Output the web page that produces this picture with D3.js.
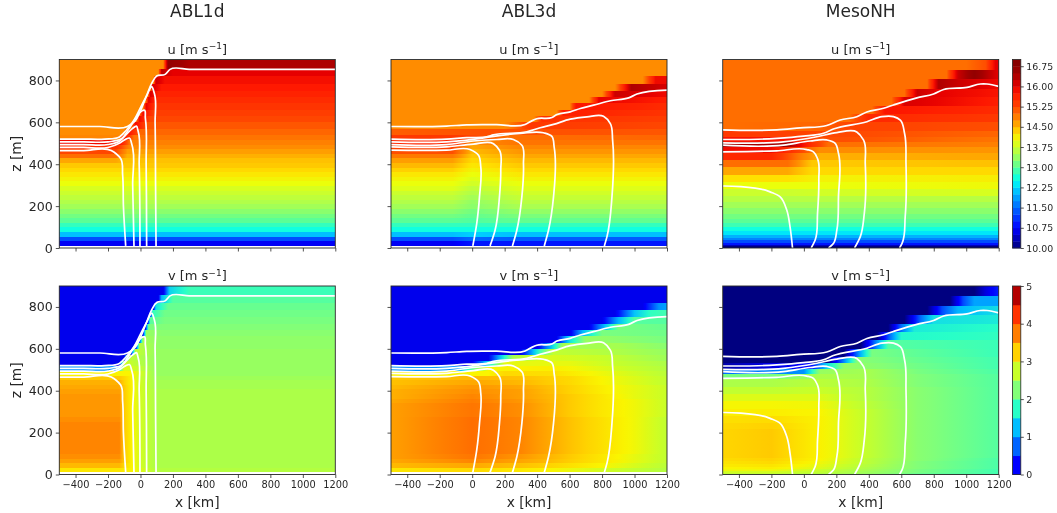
<!DOCTYPE html>
<html><head><meta charset="utf-8">
<script src="https://cdn.jsdelivr.net/npm/d3@7/dist/d3.min.js"></script>
<style>html,body{margin:0;background:#fff}svg{display:block;font-family:"DejaVu Sans",sans-serif;filter:blur(0.4px)}</style>
</head><body><svg id="c" width="1057" height="513"></svg>
<script>
const models=["ABL1d","ABL3d","MesoNH"];
const xTicks=[-400,-200,0,200,400,600,800,1000,1200];
const zTicks=[0,200,400,600,800];
const uBarTicks=[10,10.75,11.5,12.25,13,13.75,14.5,15.25,16,16.75];
const vBarTicks=[0,1,2,3,4,5];
const zEdgesABL=[10,32,54,76,98,120,142,164,186,208,230,252,274,296,318,340,362,384,406,428,450,472,494,516,540,570,600,630,660,690,720,750,785,820,855,900];
const zEdgesMeso=[0,8,16,26,38,50,64,80,98,118,140,164,190,218,248,280,314,350,385,420,455,480,505,530,560,600,640,680,720,760,805,852,900];

// Each row (bottom to top): one value, or flat x,value,x,value stops read along that level.
const uABL1d=[[10.7],[11.3],[12.1],[12.6],[12.8],[13.0],[13.15],[13.3],[13.45],[13.55],[13.65],[13.75],[13.85],[14.0],[14.1],[14.2],[14.3],[14.4],
[-150,14.6,-90,14.45],[-150,15.0,-80,14.55],[-150,15.25,-80,14.65],[-150,15.5,-60,14.75],[-130,15.9,-60,14.85],
[-130,14.8,-100,15.9,-40,14.95],[-100,14.75,-70,15.8,0,15.05],[-60,14.75,-30,15.9,40,15.15],[-30,14.75,-5,15.9,60,15.25],[-10,14.75,15,15.9,80,15.35],
[15,14.75,35,16,90,15.45],[30,14.75,50,16,100,15.55],[45,14.75,60,16.1,110,15.65],[60,14.75,75,16.1,130,15.75],[80,14.75,95,16.2,150,15.85],[110,14.75,130,16.3,200,16.0],[140,14.75,170,16.7,300,16.4]];

const uABL3d=[[-120,10.7,0,10.9],[-120,11.3,0,11.5,300,11.4],[-120,12.1,0,12.2,300,12.1],[12.6],[12.8],
[-120,13.0,0,12.95,300,13.05],[-120,13.15,0,13.05,300,13.2],[-120,13.3,0,13.15,300,13.35],[-120,13.45,0,13.3,300,13.5],[-120,13.55,0,13.35,300,13.6],[-120,13.65,0,13.45,300,13.7],[-120,13.75,0,13.55,300,13.8],[-120,13.9,0,13.65,300,13.9],[-120,14.0,0,13.8,300,14.0],[-120,14.1,0,13.9,300,14.1],[-120,14.2,0,14.0,300,14.2],[-120,14.35,0,14.1,300,14.3],[-120,14.5,0,14.2,300,14.4],[-120,14.65,0,14.3,300,14.5],[-120,14.9,0,14.4,300,14.6],[-120,15.2,0,14.5,300,14.7],[-120,15.3,0,14.6,300,14.8],[-120,15.6,0,14.75,300,14.95],
[-120,15.4,50,15.2,200,15.0,1200,15.05],[-500,15.1,100,15.2,250,15.2,1200,15.15],[200,14.75,350,15.4,1200,15.25],[380,14.75,430,15.5,1200,15.35],[520,14.75,560,15.7,1200,15.45],[600,14.75,640,15.8,1200,15.55],[720,14.75,780,16.0,1200,15.7],[800,14.75,880,16.2,1200,15.9],[880,14.75,980,16.4,1200,16.1],[1050,14.75,1130,15.9],[14.75],[14.75]];

const uMeso=[[10.0],[10.4],[10.9],[11.3],[11.7],[12.0],[12.35],[12.6],[12.85],[13.0],[13.15],[13.3],[13.45],[13.6],
[-100,13.75,100,13.8,1200,13.85],[-100,14.0,100,14.0,1200,14.05],[-100,14.25,100,14.1,1200,14.15],[-100,14.6,50,14.3],[-100,15.0,50,14.4,1200,14.45],[-200,15.6,0,14.8,100,14.55,1200,14.6],[-200,15.9,0,15.2,100,14.75,1200,14.7],[-100,16.5,50,15.5,150,15.0,1200,14.85],[-100,15.8,100,15.2,250,15.2,1200,14.95],[-500,15.4,1200,15.05],
[-500,15,100,15.05,300,15.3,1200,15.2],[280,15,400,15.6,1200,15.4],[420,15,500,15.8,1200,15.55],[540,15,620,16.1,1200,15.7],[620,15,700,16.2,820,16.0,1200,15.8],[760,15,830,16.4,950,16.2,1200,15.9],[880,15,950,16.2,1050,16.7,1200,16],[1000,15,1120,15.2,1180,16]];

const vABL1d=[[-130,3.1,-50,3.0,100,2.6],[-130,3.4,-100,3.2,-50,3.0,0,2.8,100,2.55],[-130,3.55,-100,3.3,-50,3.0,0,2.8,100,2.55],[-130,3.65,-100,3.3,-50,3.0,0,2.8,100,2.55],
[-130,3.7,-100,3.3,-50,3.0,0,2.8,100,2.55],[-130,3.7,-100,3.3,-50,3.0,0,2.8,100,2.55],[-130,3.7,-100,3.3,-50,3.0,0,2.8,100,2.55],[-130,3.7,-100,3.3,-50,3.0,0,2.8,100,2.55],[-130,3.7,-100,3.3,-50,3.0,0,2.8,100,2.55],[-130,3.7,-100,3.3,-50,3.0,0,2.8,100,2.55],[-130,3.7,-100,3.3,-50,3.0,0,2.8,100,2.55],
[-130,3.65,-100,3.3,-50,3.0,0,2.8,100,2.55],[-130,3.6,-100,3.3,-50,3.0,0,2.8,100,2.55],[-130,3.6,-100,3.3,-50,3.0,0,2.8,100,2.55],[-130,3.6,-100,3.3,-50,3.0,0,2.8,100,2.55],[-130,3.6,-100,3.3,-50,3.0,0,2.8,100,2.55],[-130,3.6,-100,3.3,-50,3.0,0,2.8,100,2.55],[-130,3.55,-100,3.3,-50,3.0,0,2.8,100,2.55],
[-130,3.5,-100,3.3,-50,3.0,0,2.8,100,2.5],[-130,3.45,-100,3.25,-50,3.0,0,2.8,100,2.5],[-130,3.3,-100,3.2,-50,3.0,0,2.75,100,2.45],[-130,3.0,-50,3.0,100,2.4],[-150,1.0,-100,2.9,0,2.7,100,2.4],[-130,0.1,-100,2.8,0,2.6,100,2.4],[-100,0.1,-70,2.7,100,2.4],[-60,0.1,-30,2.7,100,2.4],[-30,0.1,-5,2.6,120,2.35],[-10,0.1,15,2.5,120,2.35],[15,0.1,35,2.4,130,2.3],[30,0.1,50,2.2,140,2.25],[45,0.1,60,2.0,150,2.2],[60,0.1,75,1.8,150,2.15],[80,0.1,95,1.5,170,2.1],[110,0.1,130,1.2,200,2.0],[140,0.1,180,1.4,300,1.85]];

const vABL3d=[[-500,3.1,0,3.2,400,3.05,800,2.8,1200,2.6],[-500,3.4,0,3.5,400,3.3,800,3.0,1200,2.65],[-500,3.5,0,3.7,400,3.45,800,3.1,1200,2.7],[-500,3.55,0,3.8,300,3.6,600,3.3,800,3.1,1000,2.9,1200,2.7],
[-500,3.55,0,3.85,300,3.7,600,3.35,800,3.15,1000,2.95,1200,2.7],[-500,3.55,0,3.85,300,3.7,600,3.35,800,3.15,1000,2.95,1200,2.7],[-500,3.55,0,3.85,300,3.7,600,3.35,800,3.15,1000,2.95,1200,2.7],[-500,3.55,0,3.85,300,3.7,600,3.35,800,3.15,1000,2.95,1200,2.7],[-500,3.55,0,3.85,300,3.7,600,3.35,800,3.15,1000,2.95,1200,2.7],[-500,3.55,0,3.85,300,3.7,600,3.35,800,3.15,1000,2.95,1200,2.7],[-500,3.55,0,3.85,300,3.7,600,3.35,800,3.15,1000,2.95,1200,2.7],[-500,3.55,0,3.85,300,3.7,600,3.35,800,3.15,1000,2.95,1200,2.7],
[-500,3.55,0,3.8,300,3.65,600,3.3,800,3.1,1000,2.95,1200,2.75],[-500,3.55,0,3.8,300,3.65,600,3.3,800,3.1,1000,2.95,1200,2.75],[-500,3.55,0,3.8,300,3.65,600,3.3,800,3.1,1000,2.95,1200,2.75],[-500,3.5,0,3.75,300,3.6,600,3.3,800,3.1,1000,2.95,1200,2.75],[-500,3.45,0,3.7,300,3.55,600,3.3,800,3.1,1000,2.9,1200,2.75],[-500,3.45,0,3.65,300,3.55,600,3.25,800,3.05,1000,2.9,1200,2.75],
[-500,3.4,0,3.6,300,3.5,600,3.25,800,3.05,1000,2.9,1200,2.75],[-500,3.35,0,3.5,300,3.4,600,3.2,800,3.0,1000,2.85,1200,2.7],[-500,3.3,0,3.4,300,3.35,600,3.2,800,3.0,1000,2.85,1200,2.7],[-500,3.0,100,3.0,200,3.2,500,3.15,1200,2.65],[-100,1.0,0,2.0,100,3.0,500,3.05,1200,2.6],[0,0.1,100,1.5,200,2.9,600,2.9,1200,2.55],[100,0.1,250,2.5,400,2.85,800,2.75,1200,2.45],[300,0.1,420,1.9,500,2.7,800,2.6,1200,2.4],[400,0.1,480,1.2,560,2.5,900,2.5,1200,2.3],[520,0.1,600,1.5,700,2.4,1200,2.2],[600,0.1,680,1.2,800,2.2,1200,2.15],[720,0.1,820,1.3,900,2.2,1200,2.1],[800,0.1,900,1.2,1000,2.0,1200,2.0],[880,0.1,1000,1.3,1100,1.8,1200,1.9],[1050,0.1,1150,1.0,1200,1.1],[0.1],[0.1]];

const vMeso=[[-500,2.7,-200,2.7,100,2.6,400,2.4,700,2.1,1200,1.9],[-500,2.8,-200,2.8,100,2.7,400,2.45,700,2.2,1200,1.9],[-500,2.95,-200,2.95,100,2.75,400,2.5,700,2.2,1200,1.9],[-500,3.0,-200,3.05,100,2.85,400,2.55,700,2.25,1200,1.95],[-500,3.08,-200,3.12,100,2.9,400,2.6,700,2.25,1200,1.95],[-500,3.12,-200,3.2,100,2.95,400,2.65,700,2.25,1200,1.95],[-500,3.18,-200,3.25,100,3.0,400,2.65,700,2.3,1200,1.95],
[-500,3.22,-200,3.3,100,3.02,400,2.7,700,2.3,1200,2.0],[-500,3.22,-200,3.3,100,3.02,400,2.7,700,2.3,1200,2.0],[-500,3.22,-200,3.3,100,3.02,400,2.7,700,2.3,1200,2.0],[-500,3.22,-200,3.3,100,3.02,400,2.7,700,2.3,1200,2.0],[-500,3.22,-200,3.3,100,3.02,400,2.7,700,2.3,1200,2.0],[-500,3.22,-200,3.3,100,3.02,400,2.7,700,2.3,1200,2.0],
[-500,3.2,-200,3.25,100,3.02,400,2.7,700,2.3,1200,2.0],[-500,3.15,-200,3.18,100,3.02,400,2.7,700,2.3,1200,2.0],[-500,3.05,-200,3.05,100,3.0,400,2.7,700,2.3,1200,2.0],[-500,2.98,-200,2.98,100,2.95,400,2.65,700,2.3,1200,2.0],[-500,2.85,-200,2.85,100,2.85,400,2.6,700,2.3,1200,2.0],[-500,2.7,-200,2.7,100,2.75,400,2.6,700,2.3,1200,2.0],[-500,2.55,-200,2.55,100,2.65,400,2.55,700,2.25,1200,2.0],[-500,2.2,-200,2.2,100,2.55,400,2.5,700,2.25,1200,2.0],
[-500,0.8,0,1.0,100,2.4,400,2.5,700,2.2,1200,1.95],[-500,-0.3,50,0.3,150,1.5,250,2.4,700,2.15,1200,1.9],[150,-0.5,250,1.0,330,2.3,700,2.1,1200,1.9],[250,-0.5,350,1.2,420,2.2,700,2.05,1200,1.85],[350,-0.5,450,1.0,520,2.0,1200,1.85],[450,-0.5,530,0.8,600,1.7,1200,1.8],[520,-0.5,600,0.8,680,1.6,1200,1.75],[620,-0.5,720,0.8,800,1.5,1200,1.6],[760,-0.5,850,0.6,950,1.2,1200,1.5],[900,-0.5,980,0.6,1050,1.1,1200,1.1],[1050,-0.5,1150,0.2,1200,0.4]];

// White contours, [x km, z m], same for both rows of a model.
const contoursABL1d=[
[[-500,580],[-250,580],[-80,580],[-33,607],[-3,650],[39,730],[69,786],[100,821],[152,829],[182,853],[300,853],[1200,853]],
[[-500,520],[-350,520],[-220,520],[-130,530],[-90,560],[-40,610],[0,670],[40,730],[70,770],[85,740],[90,600],[93,300],[96,10]],
[[-500,507],[-350,507],[-200,507],[-120,520],[-70,570],[-30,620],[10,655],[22,658],[30,620],[35,400],[38,10]],
[[-500,494],[-350,494],[-200,494],[-130,510],[-90,540],[-50,570],[-25,582],[-15,560],[-8,400],[-3,10]],
[[-500,480],[-350,480],[-200,480],[-130,500],[-90,520],[-68,525],[-55,500],[-48,300],[-40,10]],
[[-500,465],[-350,465],[-180,465],[-150,450],[-122,427],[-110,350],[-105,200],[-91,10]]];
const contoursABL3d=[
[[-500,580],[-157,582],[-33,588],[150,589],[326,590],[367,607],[398,617],[491,623],[522,637],[604,650],[666,666],[748,682],[851,703],[964,717],[1015,735],[1200,754]],
[[-500,520],[-157,520],[-33,527],[90,531],[131,540],[337,555],[419,574],[501,590],[604,615],[707,626],[809,629],[851,594],[865,515],[861,244],[830,53],[814,10]],
[[-500,507],[-157,507],[49,523],[110,531],[296,547],[439,550],[491,533],[505,482],[501,244],[470,85],[444,10]],
[[-500,494],[-157,494],[8,511],[152,518],[254,518],[306,491],[316,402],[306,244],[275,85],[248,10]],
[[-500,483],[-157,483],[8,496],[131,498],[168,467],[176,371],[168,244],[141,85],[110,10]],
[[-500,467],[-157,467],[-13,470],[39,443],[53,387],[45,244],[28,116],[4,10]]];
const contoursMeso=[
[[-500,564],[-167,564],[-23,574],[141,585],[224,611],[326,627],[388,649],[491,667],[552,683],[696,717],[799,735],[861,757],[1005,767],[1087,783],[1128,783],[1200,772]],
[[-500,518],[-167,523],[-3,534],[121,548],[182,568],[388,603],[481,627],[552,627],[594,611],[620,548],[629,404],[624,149],[604,21],[589,0]],
[[-500,502],[-126,507],[80,531],[203,551],[326,554],[367,516],[378,404],[372,164],[347,53],[312,0]],
[[-500,491],[-126,491],[39,511],[141,516],[193,500],[213,452],[213,244],[203,85],[182,21],[152,0]],
[[-500,459],[-167,464],[18,470],[59,459],[84,427],[92,324],[84,164],[69,37],[45,0]],
[[-500,296],[-208,268],[-146,244],[-105,180],[-85,100],[-70,0]]];

const uColorStops=[[10,"#000080"],[10.4,"#0000be"],[10.75,"#0000ff"],[11.25,"#0046ff"],[11.75,"#008cff"],[12.25,"#00d7ff"],[12.5,"#00fff0"],[12.75,"#28ffc8"],[13,"#5aff96"],[13.5,"#aaff50"],[14,"#ebff0a"],[14.25,"#ffe100"],[14.5,"#ffb900"],[14.75,"#ff8c00"],[15,"#ff6e00"],[15.25,"#ff4600"],[15.75,"#ff1900"],[16,"#e60000"],[16.5,"#a00000"],[17,"#800000"]];
const vColorStops=[[-0.5,"#000080"],[0,"#0000e1"],[0.25,"#0000ff"],[0.75,"#0064ff"],[1.25,"#00beff"],[1.75,"#28ffc8"],[2.25,"#82ff78"],[2.75,"#c8ff28"],[3,"#faf500"],[3.25,"#ffd200"],[3.75,"#ff7d00"],[4.25,"#ff3200"],[4.75,"#b40000"]];

const colU=d3.scaleLinear().domain(uColorStops.map(d=>d[0])).range(uColorStops.map(d=>d[1])).clamp(true);
const colV=d3.scaleLinear().domain(vColorStops.map(d=>d[0])).range(vColorStops.map(d=>d[1])).clamp(true);

const svg=d3.select("#c");
const defs=svg.append("defs");
const W=276,H=188.5,lefts=[59.3,391,722.7],tops=[59.5,286];
const ink="#262626";
const xS=d3.scaleLinear().domain([-500,1200]).range([0,W]);
const zS=d3.scaleLinear().domain([0,900]).range([H,0]);
const lineGen=d3.line().x(d=>xS(d[0])).y(d=>zS(d[1])).curve(d3.curveCatmullRom.alpha(1));

const panels=[
 {r:0,c:0,rows:uABL1d,edges:zEdgesABL,col:colU,cont:contoursABL1d,var:"u"},
 {r:0,c:1,rows:uABL3d,edges:zEdgesABL,col:colU,cont:contoursABL3d,var:"u"},
 {r:0,c:2,rows:uMeso,edges:zEdgesMeso,col:colU,cont:contoursMeso,var:"u"},
 {r:1,c:0,rows:vABL1d,edges:zEdgesABL,col:colV,cont:contoursABL1d,var:"v"},
 {r:1,c:1,rows:vABL3d,edges:zEdgesABL,col:colV,cont:contoursABL3d,var:"v"},
 {r:1,c:2,rows:vMeso,edges:zEdgesMeso,col:colV,cont:contoursMeso,var:"v"}];

function styleAxis(g,fs){
 g.select(".domain").remove();
 g.selectAll("line").attr("stroke",ink).attr("stroke-width",0.8);
 g.selectAll("text").attr("fill",ink).attr("font-size",fs).attr("font-family","DejaVu Sans");
}
panels.forEach((p,pi)=>{
 const g=svg.append("g").attr("transform",`translate(${lefts[p.c]},${tops[p.r]})`);
 const cid="clip"+pi;
 defs.append("clipPath").attr("id",cid).append("rect").attr("width",W).attr("height",H);
 const cells=g.append("g").attr("clip-path",`url(#${cid})`);
 p.rows.forEach((row,i)=>{
  const y0=Math.round(tops[p.r]+zS(p.edges[i+1]))-tops[p.r], y1=Math.round(tops[p.r]+zS(p.edges[i]))-tops[p.r];
  let fill;
  if(row.length===1){fill=p.col(row[0]);}
  else{
   const id=`g${pi}_${i}`;
   const lg=defs.append("linearGradient").attr("id",id).attr("gradientUnits","userSpaceOnUse").attr("x1",0).attr("x2",W).attr("y1",0).attr("y2",0);
   for(let k=0;k<row.length;k+=2){
    const x=row[k],v=row[k+1];
    lg.append("stop").attr("offset",xS(x)/W).attr("stop-color",p.col(v));
    if(k+2<row.length){
     const x2=row[k+2],v2=row[k+3];
     for(let s=1;s<6;s++){
      lg.append("stop").attr("offset",xS(x+(x2-x)*s/6)/W).attr("stop-color",p.col(v+(v2-v)*s/6));
     }
    }
   }
   fill=`url(#${id})`;
  }
  cells.append("rect").attr("x",0).attr("width",W).attr("y",y0).attr("height",y1-y0).attr("fill",fill).attr("shape-rendering","crispEdges");
 });
 cells.selectAll("path.ct").data(p.cont).join("path").attr("class","ct").attr("d",lineGen).attr("fill","none").attr("stroke","#fff").attr("stroke-width",1.7);
 g.append("rect").attr("width",W).attr("height",H).attr("fill","none").attr("stroke",ink).attr("stroke-width",0.9);
 const ax=g.append("g").attr("transform",`translate(0,${H})`).call(d3.axisBottom(xS).tickValues(xTicks).tickSize(3.5).tickPadding(3).tickFormat(p.r===1?d3.format("d"):""));
 styleAxis(ax,9.8);
 const ay=g.append("g").call(d3.axisLeft(zS).tickValues(zTicks).tickSize(3.5).tickPadding(3).tickFormat(p.c===0?d3.format("d"):""));
 styleAxis(ay,12.6);
 const t=g.append("text").attr("x",W/2).attr("y",-6).attr("text-anchor","middle").attr("font-size",13).attr("fill",ink);
 t.append("tspan").text(p.var+" [m s");
 t.append("tspan").attr("dy",-4.5).attr("font-size",9).text("\u22121");
 t.append("tspan").attr("dy",4.5).text("]");
 if(p.r===1) g.append("text").attr("x",W/2).attr("y",H+32).attr("text-anchor","middle").attr("font-size",13.8).attr("fill",ink).text("x [km]");
 if(p.c===0) g.append("text").attr("transform",`translate(-38,${H/2}) rotate(-90)`).attr("text-anchor","middle").attr("font-size",13.8).attr("fill",ink).text("z [m]");
 if(p.r===0) svg.append("text").attr("x",lefts[p.c]+W/2).attr("y",17).attr("text-anchor","middle").attr("font-size",17).attr("fill",ink).text(models[p.c]);
});

// colour bars
function colorbar(top,dom,step,col,ticks,fmt){
 const g=svg.append("g").attr("transform",`translate(1012.5,${top})`);
 const bw=8.3;
 const s=d3.scaleLinear().domain(dom).range([H,0]);
 const bands=d3.range(dom[0],dom[1]-1e-9,step);
 g.selectAll("rect.b").data(bands).join("rect").attr("class","b").attr("width",bw)
  .attr("y",d=>s(d+step)).attr("height",d=>s(d)-s(d+step)+0.4).attr("fill",d=>col(d+step/2));
 g.append("rect").attr("width",bw).attr("height",H).attr("fill","none").attr("stroke",ink).attr("stroke-width",0.8);
 const a=g.append("g").attr("transform",`translate(${bw},0)`).call(d3.axisRight(s).tickValues(ticks).tickSize(3).tickPadding(2.5).tickFormat(fmt));
 styleAxis(a,9.4);
}
colorbar(tops[0],[10,17],0.25,colU,uBarTicks,d3.format(".2f"));
colorbar(tops[1],[0,5],0.5,colV,vBarTicks,d3.format("d"));
</script></body></html>
